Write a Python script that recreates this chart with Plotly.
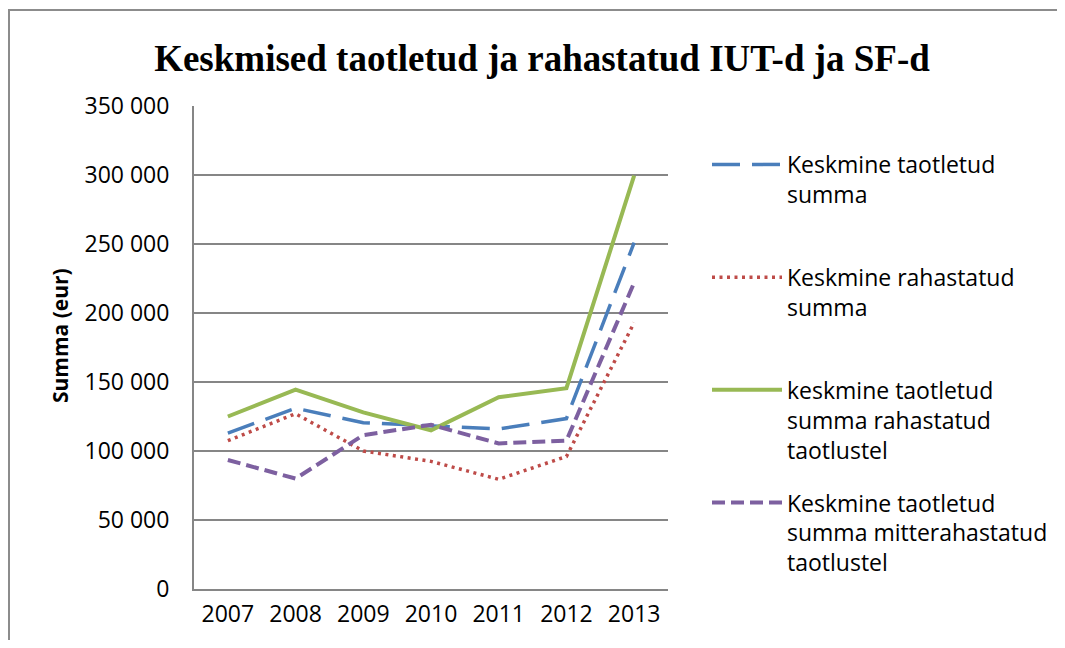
import plotly.graph_objects as go

years = ["2007", "2008", "2009", "2010", "2011", "2012", "2013"]
keskmine_taotletud = [113000, 131000, 120500, 118000, 116000, 123500, 251000]
keskmine_rahastatud = [107500, 127000, 100000, 92500, 79500, 96000, 193000]
taotletud_rahastatud = [125000, 144500, 128000, 115000, 139000, 145500, 299500]
taotletud_mitterahastatud = [93500, 80000, 111500, 119000, 105500, 107500, 222000]

names = [
    "Keskmine taotletud<br>summa<br> ",
    "Keskmine rahastatud<br>summa<br> ",
    "keskmine taotletud<br>summa rahastatud<br>taotlustel",
    "Keskmine taotletud<br>summa mitterahastatud<br>taotlustel",
]
colors = ["#4A7EBB", "#BE4B48", "#98B954", "#7D60A0"]
dashes = ["28px,12px", "3px,4.5px", "solid", "13px,6px"]
widths = [3.5, 3.5, 4, 4]
series = [keskmine_taotletud, keskmine_rahastatud, taotletud_rahastatud, taotletud_mitterahastatud]

fig = go.Figure()
for i, s in enumerate(series):
    fig.add_trace(go.Scatter(
        x=years, y=s, mode="lines", name=names[i], legendgroup=str(i),
        line=dict(color=colors[i], dash=dashes[i], width=widths[i]),
    ))

# page body has an 8px margin, so figure coordinates = reference - 8
W, H = 1049, 632
L, R, T, B = 186, 660, 98, 581
PW, PH = R - L, B - T

FONT = "Open Sans, Lato, sans-serif"

fig.update_layout(
    width=W, height=H,
    margin=dict(l=L, r=W - R, t=T, b=H - B, autoexpand=False),
    paper_bgcolor="white", plot_bgcolor="white",
    font=dict(family=FONT, size=23, color="black"),
    title=dict(text="<b>Keskmised taotletud ja rahastatud IUT-d ja SF-d</b>",
               font=dict(family="Liberation Serif, Times New Roman, serif", size=37, color="black"),
               x=534 / W, xanchor="center", xref="container", y=1 - 50 / H, yanchor="middle"),
    legend=dict(x=(699 - L) / PW, xanchor="left", y=(B - 135) / PH, yanchor="top",
                valign="top", itemwidth=70, tracegroupgap=20, traceorder="grouped",
                font=dict(family=FONT, size=23, color="black"),
                bgcolor="rgba(0,0,0,0)"),
    xaxis=dict(type="category", range=[-0.5, 6.5], showgrid=False, showline=True,
               linecolor="#868686", linewidth=2, ticks="", ticklabelstandoff=3,
               tickfont=dict(size=23)),
    yaxis=dict(range=[0, 350000], dtick=50000, tickformat=",d", showgrid=True,
               gridcolor="#868686", gridwidth=1.5, showline=True, linecolor="#868686",
               linewidth=2, ticks="", ticklabelstandoff=18, zeroline=False,
               tickfont=dict(size=23)),
    separators=". ",
    annotations=[dict(text="<b>Summa (eur)</b>", textangle=-90, showarrow=False,
                      xref="paper", yref="paper", x=(52 - L) / PW, y=(B - 328) / PH,
                      xanchor="center", yanchor="middle",
                      font=dict(family=FONT, size=21, color="black"))],
    shapes=[dict(type="rect", xref="paper", yref="paper",
                 x0=(1 - L) / PW, x1=3, y0=-2, y1=(B - 2) / PH,
                 line=dict(color="#8C8C8C", width=2), fillcolor="rgba(0,0,0,0)", layer="below")],
)

fig.write_html("out.html")
